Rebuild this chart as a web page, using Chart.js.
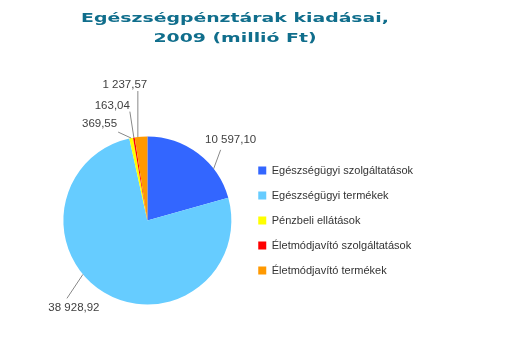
<!DOCTYPE html>
<html>
<head>
<meta charset="utf-8">
<script src="https://cdn.jsdelivr.net/npm/chart.js@4"></script>
<style>
  body { margin: 0; background: #fff; }
  #wrap { position: relative; width: 509px; height: 353px; }
</style>
</head>
<body>
<div id="wrap"><canvas id="pie" width="509" height="353"></canvas></div>
<script>
// data
const categories = [
    'Egészségügyi szolgáltatások',
    'Egészségügyi termékek',
    'Pénzbeli ellátások',
    'Életmódjavító szolgáltatások',
    'Életmódjavító termékek'
];
const values = [10597.10, 38928.92, 369.55, 163.04, 1237.57];
const colors = ['#3366FF', '#66CCFF', '#FFFF00', '#FF0000', '#FF9900'];
const titleLines = ['Egészségpénztárak kiadásai,', '2009 (millió Ft)'];

// where each leader line leaves the slice (fraction of its arc) and where it goes
const leaders = [
    { t: 0.70, dx: 7, dy: -19, tx: 10, ty: -10, align: 'center' },
    { t: 0.57, dx: -16, dy: 24, tx: 7, ty: 9, align: 'center' },
    { t: 0.50, dx: -13, dy: -6, tx: -1, ty: -8, align: 'right' },
    { t: 0.50, dx: -4, dy: -26, tx: 0, ty: -6, align: 'right' },
    { t: 0.25, dx: 0, dy: -46, tx: -13, ty: -6, align: 'center' }
];

function huFormat(v) {
    const parts = v.toFixed(2).split('.');
    return parts[0].replace(/\B(?=(\d{3})+(?!\d))/g, ' ') + ',' + parts[1];
}

// the original title uses a wide, extended face - stretch a bold one
const titlePlugin = {
    id: 'stretchedTitle',
    afterDraw(chart) {
        const ctx = chart.ctx;
        const baselines = [22, 42];
        ctx.save();
        ctx.font = 'bold 13px "DejaVu Sans"';
        ctx.fillStyle = '#106E8C';
        ctx.textBaseline = 'alphabetic';
        ctx.textAlign = 'center';
        titleLines.forEach((line, i) => {
            ctx.save();
            ctx.translate(235, baselines[i]);
            ctx.scale(1.45, 1);
            ctx.fillText(line, 0, 0);
            ctx.restore();
        });
        ctx.restore();
    }
};

const leaderPlugin = {
    id: 'leaderLabels',
    afterDatasetsDraw(chart) {
        const ctx = chart.ctx;
        const arcs = chart.getDatasetMeta(0).data;
        ctx.save();
        ctx.font = '11.5px "Liberation Sans"';
        ctx.fillStyle = '#404040';
        ctx.strokeStyle = '#888888';
        ctx.lineWidth = 1;
        ctx.textBaseline = 'middle';
        arcs.forEach((arc, i) => {
            const L = leaders[i];
            const a = arc.startAngle + L.t * (arc.endAngle - arc.startAngle);
            const x0 = arc.x + Math.cos(a) * arc.outerRadius;
            const y0 = arc.y + Math.sin(a) * arc.outerRadius;
            const x1 = x0 + L.dx;
            const y1 = y0 + L.dy;
            ctx.beginPath();
            ctx.moveTo(x0, y0);
            ctx.lineTo(x1, y1);
            ctx.stroke();
            ctx.textAlign = L.align;
            ctx.fillText(huFormat(values[i]), x1 + L.tx, y1 + L.ty);
        });
        ctx.restore();
    }
};

new Chart(document.getElementById('pie').getContext('2d'), {
    type: 'pie',
    data: {
        labels: categories,
        datasets: [{
            data: values,
            backgroundColor: colors,
            borderWidth: 0
        }]
    },
    options: {
        responsive: false,
        animation: false,
        layout: {
            padding: { left: 50.5, top: 136.5, bottom: 48.5, right: 86 }
        },
        plugins: {
            legend: {
                position: 'right',
                labels: {
                    boxWidth: 8,
                    boxHeight: 8,
                    padding: 14,
                    color: '#333333',
                    font: { family: '"Liberation Sans"', size: 11 }
                }
            },
            tooltip: { enabled: false },
            title: { display: false }
        }
    },
    plugins: [titlePlugin, leaderPlugin]
});
</script>
</body>
</html>
